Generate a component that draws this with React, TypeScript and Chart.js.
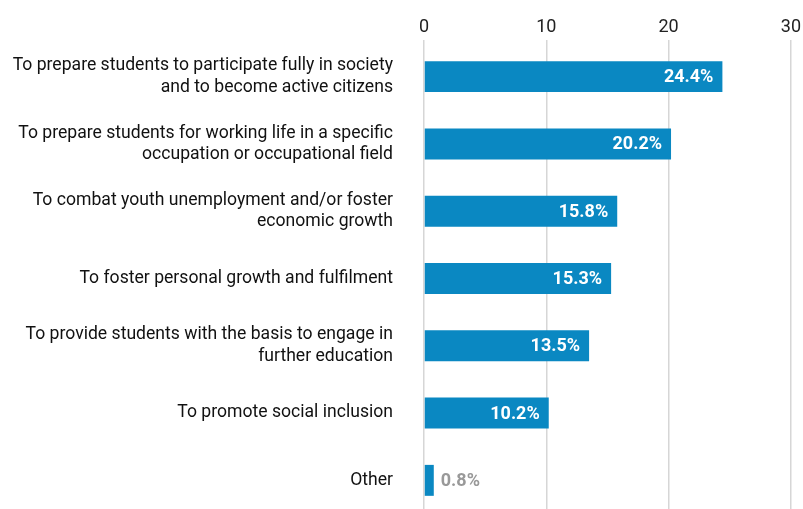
import React, { useEffect, useRef } from "react";
import { Chart, registerables } from "chart.js";

Chart.register(...registerables);

const categories: string[][] = [
  ["To prepare students to participate fully in society", "and to become active citizens"],
  ["To prepare students for working life in a specific", "occupation or occupational field"],
  ["To combat youth unemployment and/or foster", "economic growth"],
  ["To foster personal growth and fulfilment"],
  ["To provide students with the basis to engage in", "further education"],
  ["To promote social inclusion"],
  ["Other"],
];
const values: number[] = [24.4, 20.2, 15.8, 15.3, 13.5, 10.2, 0.8];
const valueLabels: string[] = ["24.4%", "20.2%", "15.8%", "15.3%", "13.5%", "10.2%", "0.8%"];
const xTicks: number[] = [0, 10, 20, 30];

const FONT = "'Liberation Sans Narrow', 'Roboto', 'Liberation Sans', sans-serif";

const labelPlugin = {
  id: "barLabels",
  afterDatasetsDraw(chart: any) {
    const ctx = chart.ctx;
    const meta = chart.getDatasetMeta(0);
    ctx.save();
    ctx.font = `bold 18px ${FONT}`;
    ctx.textBaseline = "middle";
    meta.data.forEach((bar: any, i: number) => {
      const v = values[i];
      const txt = valueLabels[i];
      if (v < 3) {
        ctx.fillStyle = "#999999";
        ctx.textAlign = "left";
        ctx.fillText(txt, bar.x + 7, bar.y + 1);
      } else {
        ctx.fillStyle = "#ffffff";
        ctx.textAlign = "right";
        ctx.fillText(txt, bar.x - 9, bar.y + 1);
      }
    });
    ctx.restore();
  },
};

export default function App() {
  const ref = useRef<HTMLCanvasElement | null>(null);
  useEffect(() => {
    if (!ref.current) return;
    const chart = new Chart(ref.current, {
      type: "bar",
      data: {
        labels: categories,
        datasets: [
          {
            data: values,
            backgroundColor: "#0a88c2",
            borderWidth: 0,
            categoryPercentage: 1,
            barPercentage: 0.46,
          },
        ],
      },
      options: {
        indexAxis: "y",
        animation: false,
        responsive: false,
        maintainAspectRatio: false,
        layout: { padding: { left: 0, right: 12, top: 0, bottom: 0 } },
        plugins: { legend: { display: false }, tooltip: { enabled: false } },
        scales: {
          x: {
            position: "top",
            min: 0,
            max: 30,
            afterBuildTicks: (scale: any) => {
              scale.ticks = xTicks.map((v) => ({ value: v }));
            },
            afterFit: (scale: any) => {
              scale.height = 43;
              scale.paddingLeft = 0;
            },
            grid: { color: "#d6d6d6", lineWidth: 1.5, tickLength: 3, drawTicks: true },
            border: { display: false },
            ticks: {
              color: "#222222",
              padding: 2,
              font: { family: FONT, size: 18 },
            },
          },
          y: {
            afterFit: (scale: any) => {
              scale.width = 424;
              scale.paddingTop = 0;
              scale.paddingBottom = 0;
            },
            grid: { display: false, drawTicks: false },
            border: { display: false },
            ticks: {
              color: "#111111",
              padding: 31,
              font: { family: FONT, size: 17.6, lineHeight: 1.22 },
            },
          },
        },
      },
      plugins: [labelPlugin],
    });
    return () => chart.destroy();
  }, []);
  return (
    <div style={{ position: "fixed", left: 0, top: 0, width: 803, height: 509, overflow: "hidden", background: "#fff" }}>
      <canvas ref={ref} width={803} height={514} style={{ width: 803, height: 514, display: "block" }} />
    </div>
  );
}
